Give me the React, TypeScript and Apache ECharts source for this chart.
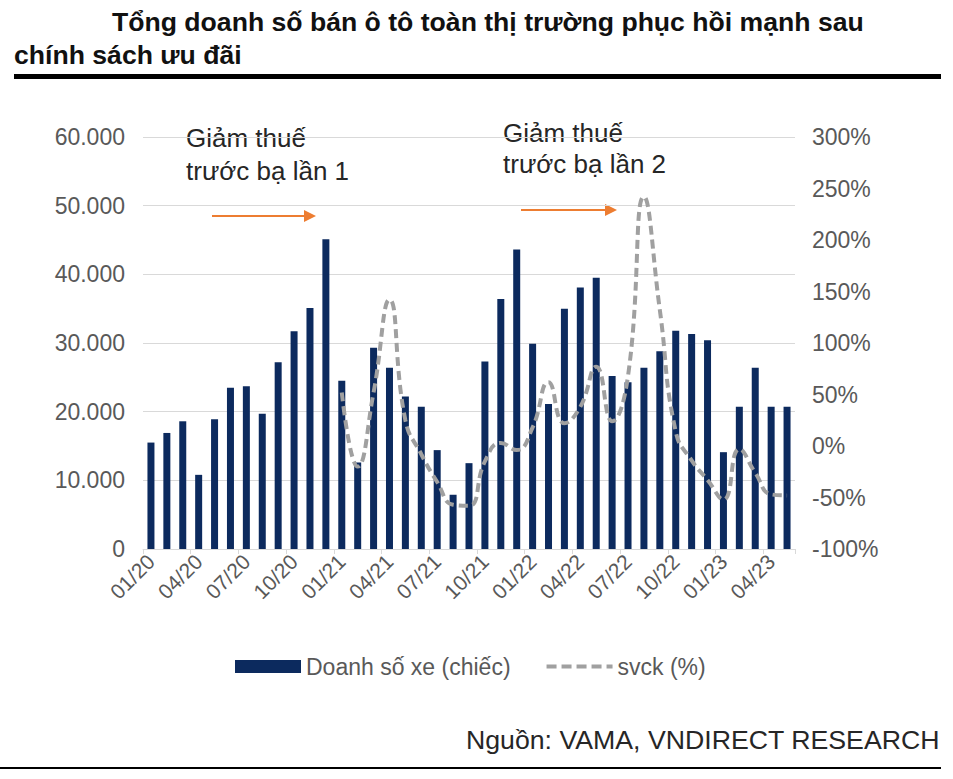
import React, { useEffect, useRef } from "react";
import * as echarts from "echarts";

const months = [
  "01/20","02/20","03/20","04/20","05/20","06/20","07/20","08/20","09/20","10/20","11/20","12/20",
  "01/21","02/21","03/21","04/21","05/21","06/21","07/21","08/21","09/21","10/21","11/21","12/21",
  "01/22","02/22","03/22","04/22","05/22","06/22","07/22","08/22","09/22","10/22","11/22","12/22",
  "01/23","02/23","03/23","04/23","05/23",
];

const salesUnits = [
  15500, 16900, 18600, 10800, 18900, 23500, 23700, 19700, 27200, 31700, 35100, 45100,
  24500, 12600, 29300, 26400, 22200, 20700, 14400, 7900, 12500, 27300, 36400, 43600,
  29900, 21100, 35000, 38100, 39500, 25200, 24300, 26400, 28800, 31800, 31300, 30400,
  14100, 20700, 26400, 20700, 20700,
];

const yoyPct = [
  null, null, null, null, null, null, null, null, null, null, null, null,
  52, -20, 52, 142, 25, -8, -35, -57, -58, -15, 3, -4,
  18, 62, 22, 38, 77, 24, 68, 242, 132, 14, -14, -33,
  -52, -3, -26, -47, -48,
];

const seriesNames = ["Doanh số xe (chiếc)", "svck (%)"];
const titleLine1 = "Tổng doanh số bán ô tô toàn thị trường phục hồi mạnh sau";
const titleLine2 = "chính sách ưu đãi";
const note1 = "Giảm thuế\ntrước bạ lần 1";
const note2 = "Giảm thuế\ntrước bạ lần 2";
const sourceText = "Nguồn: VAMA, VNDIRECT RESEARCH";

const FONT = "'Liberation Sans', Arial, sans-serif";
const GRAY = "#595959";
const ORANGE = "#ED7D31";
const LINE_GRAY = "#A0A0A0";

function arrow(x1: number, x2: number, y: number) {
  return [
    {
      type: "line",
      shape: { x1, y1: y, x2: x2 - 10, y2: y },
      style: { stroke: ORANGE, lineWidth: 2 },
    },
    {
      type: "polygon",
      shape: { points: [[x2 - 12, y - 6], [x2, y], [x2 - 12, y + 6]] },
      style: { fill: ORANGE },
    },
  ];
}

export default function App() {
  const ref = useRef<HTMLDivElement>(null);

  useEffect(() => {
    if (!ref.current) return;
    const chart = echarts.init(ref.current, null, { renderer: "svg" });
    chart.setOption({
      animation: false,
      backgroundColor: "#ffffff",
      textStyle: { fontFamily: FONT },
      grid: { left: 143, right: 158, top: 137, bottom: 230 },
      legend: {
        top: 650,
        left: 230,
        itemWidth: 66,
        itemHeight: 13,
        itemGap: 34,
        textStyle: { color: GRAY, fontSize: 23, fontFamily: FONT },
        data: [
          { name: seriesNames[0], icon: "rect" },
          {
            name: seriesNames[1],
            itemStyle: { opacity: 0 },
            lineStyle: { width: 4, type: [10, 5], color: LINE_GRAY },
          },
        ],
      },
      xAxis: {
        type: "category",
        data: months,
        axisLine: { lineStyle: { color: "#D9D9D9", width: 1 } },
        axisTick: { show: true, interval: 2, length: 5, lineStyle: { color: "#D9D9D9" } },
        axisLabel: {
          interval: 2,
          rotate: 45,
          color: GRAY,
          fontSize: 21,
          fontFamily: FONT,
          margin: 9,
        },
      },
      yAxis: [
        {
          type: "value",
          min: 0,
          max: 60000,
          interval: 10000,
          axisLine: { show: false },
          axisTick: { show: false },
          splitLine: { lineStyle: { color: "#D9D9D9", width: 1 } },
          axisLabel: {
            color: GRAY,
            fontSize: 23,
            fontFamily: FONT,
            margin: 18,
            formatter: (v: number) =>
              v === 0 ? "0" : String(v).replace(/\B(?=(\d{3})+(?!\d))/g, "."),
          },
        },
        {
          type: "value",
          min: -100,
          max: 300,
          interval: 50,
          axisLine: { show: false },
          axisTick: { show: false },
          splitLine: { show: false },
          axisLabel: {
            color: GRAY,
            fontSize: 23,
            fontFamily: FONT,
            margin: 17,
            formatter: "{value}%",
          },
        },
      ],
      series: [
        {
          name: seriesNames[0],
          type: "bar",
          data: salesUnits,
          barWidth: 7,
          itemStyle: { color: "#0C2A5E" },
        },
        {
          name: seriesNames[1],
          type: "line",
          yAxisIndex: 1,
          data: yoyPct,
          smooth: 0.5,
          symbol: "none",
          connectNulls: false,
          lineStyle: { color: LINE_GRAY, width: 4, type: [9, 5] },
          itemStyle: { color: LINE_GRAY },
        },
      ],
      graphic: [
        {
          type: "text",
          left: 112,
          top: 8,
          style: { text: titleLine1, font: `bold 26.6px ${FONT}`, fill: "#111111" },
        },
        {
          type: "text",
          left: 14,
          top: 41,
          style: { text: titleLine2, font: `bold 26.6px ${FONT}`, fill: "#111111" },
        },
        {
          type: "rect",
          shape: { x: 14, y: 74, width: 927, height: 5 },
          style: { fill: "#000000" },
        },
        {
          type: "text",
          left: 186,
          top: 121,
          style: { text: note1, font: `26px ${FONT}`, fill: "#262626", lineHeight: 33 },
        },
        {
          type: "text",
          left: 503,
          top: 117,
          style: { text: note2, font: `26px ${FONT}`, fill: "#262626", lineHeight: 31 },
        },
        ...arrow(212, 316, 216),
        ...arrow(521, 617, 210),
        {
          type: "text",
          right: 13,
          top: 726,
          style: { text: sourceText, font: `26.7px ${FONT}`, fill: "#262626" },
        },
        {
          type: "rect",
          shape: { x: 0, y: 767, width: 941, height: 2 },
          style: { fill: "#000000" },
        },
      ],
    });
    return () => chart.dispose();
  }, []);

  return (
    <div
      ref={ref}
      style={{ position: "absolute", left: 0, top: 0, width: 953, height: 779 }}
    />
  );
}
